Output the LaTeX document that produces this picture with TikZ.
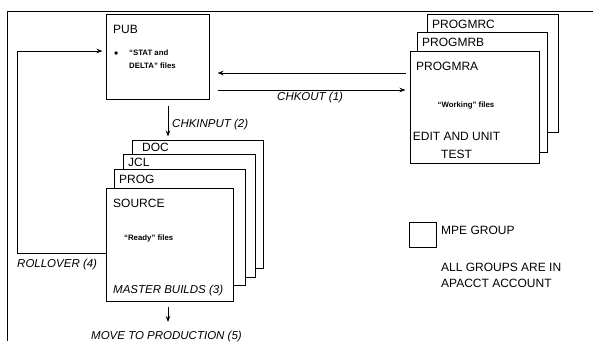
\documentclass[tikz,border=0pt]{standalone}
\usepackage{fontspec}
\setmainfont{Liberation Sans}
\usetikzlibrary{arrows.meta, positioning, calc}

\tikzset{
  grp/.style={rectangle, draw=black, fill=white, line width=1pt, inner sep=0pt},
  hdr/.style={anchor=base west, inner sep=0pt, font=\fontsize{12}{14}\selectfont},
  note/.style={anchor=base west, inner sep=0pt, font=\fontsize{7.8}{9}\selectfont\bfseries},
  act/.style={anchor=base west, inner sep=0pt, font=\fontsize{11.5}{14}\selectfont\itshape},
  arr/.style={line width=1pt, -{Stealth[length=6pt, width=4.5pt]}}
}

\begin{document}
\begin{tikzpicture}[x=1pt, y=-1pt]
  \useasboundingbox (0,0) rectangle (593,341);
  % outer frame
  \draw[line width=1pt] (593,11) -- (7,11) -- (7,341);

  % PUB group
  \node[grp, minimum width=103, minimum height=85] (pub) at (157.5,56.5) {};
  \node[hdr] (publbl) at (113,33) {PUB};
  \node[note, font=\fontsize{12}{12}\selectfont] (pubdot) at (114,57) {•};
  \node[note] (pubnote1) at (129,55) {``STAT and};
  \node[note] (pubnote2) at (129,68) {DELTA'' files};

  % working groups, back to front
  \node[grp, minimum width=131, minimum height=118] (mrc) at (492.5,73) {};
  \node[grp, minimum width=130, minimum height=120] (mrb) at (482,92) {};
  \node[grp, minimum width=129, minimum height=112] (mra) at (474.5,107) {};
  \node[hdr] (mrclbl) at (432,28) {PROGMRC};
  \node[hdr] (mrblbl) at (422,46) {PROGMRB};
  \node[hdr] (mralbl) at (416,70) {PROGMRA};
  \node[note, anchor=base] (mranote) at (466,107) {``Working'' files};
  \node[hdr, anchor=base] (edit) at (456.5,140) {EDIT AND UNIT};
  \node[hdr, anchor=base] (test) at (456.5,158) {TEST};

  % source groups, back to front
  \node[grp, minimum width=131, minimum height=128] (doc) at (197.5,204) {};
  \node[grp, minimum width=132, minimum height=123] (jcl) at (189,215.5) {};
  \node[grp, minimum width=131, minimum height=116] (prog) at (179.5,227) {};
  \node[grp, minimum width=127, minimum height=113] (src) at (169.5,244.5) {};
  \node[hdr] (doclbl) at (142,151) {DOC};
  \node[hdr] (jcllbl) at (128,166) {JCL};
  \node[hdr] (proglbl) at (119,183) {PROG};
  \node[hdr] (srclbl) at (113,207) {SOURCE};
  \node[note] (srcnote) at (124,240) {``Ready'' files};
  \node[act] (build) at (113,293) {MASTER BUILDS (3)};

  % legend
  \node[grp, minimum width=27, minimum height=25] (key) at (422.5,234.5) {};
  \node[hdr] (keylbl) at (441,234) {MPE GROUP};
  \node[hdr] (acct1) at (441,271) {ALL GROUPS ARE IN};
  \node[hdr] (acct2) at (441,287) {APACCT ACCOUNT};

  % flows
  \coordinate (ci) at (168,0);
  \coordinate (co1) at (0,73);
  \coordinate (co2) at (0,90);
  \coordinate (rl) at (17,253);
  \coordinate (rt) at (17,51);
  \coordinate (prod) at (168,322);

  \draw[arr, shorten <=4pt, shorten >=8pt] (mra.west |- co1) -- (pub.east |- co1);
  \draw[arr, shorten <=8pt, shorten >=4pt] (pub.east |- co2) -- (mra.west |- co2);
  \node[act] (chkout) at (277,100) {CHKOUT (1)};

  \draw[arr, shorten <=6pt, shorten >=3pt] (pub.south -| ci) -- (doc.north -| ci);
  \node[act] (chkin) at (172,127) {CHKINPUT (2)};

  \draw[arr, shorten >=3pt] (src.west |- rl) -- (rl) -- (rt) -- (pub.west |- rt);
  \node[act] (roll) at (17,267) {ROLLOVER (4)};

  \draw[arr, shorten <=5pt] (src.south -| prod) -- (prod);
  \node[act] (move) at (91,339) {MOVE TO PRODUCTION (5)};
\end{tikzpicture}
\end{document}
